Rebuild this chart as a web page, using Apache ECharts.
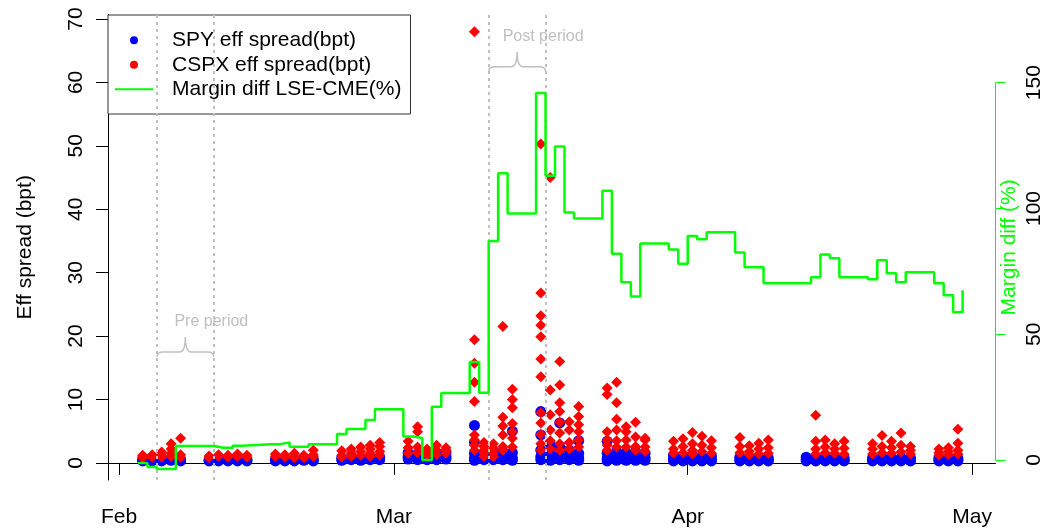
<!DOCTYPE html>
<html>
<head>
<meta charset="utf-8">
<script src="https://cdn.jsdelivr.net/npm/echarts@6/dist/echarts.min.js"></script>
<style>
  html, body { margin: 0; padding: 0; background: #fff; }
  #chart { width: 1045px; height: 531px; }
</style>
</head>
<body>
<div id="chart"></div>
<script>
// trading days, 2020 (Good Friday closed; Apr 13 only SPY)
const tradingDays = [
  '2020-02-03', '2020-02-04', '2020-02-05', '2020-02-06', '2020-02-07',
  '2020-02-10', '2020-02-11', '2020-02-12', '2020-02-13', '2020-02-14',
  '2020-02-17', '2020-02-18', '2020-02-19', '2020-02-20', '2020-02-21',
  '2020-02-24', '2020-02-25', '2020-02-26', '2020-02-27', '2020-02-28',
  '2020-03-02', '2020-03-03', '2020-03-04', '2020-03-05', '2020-03-06',
  '2020-03-09', '2020-03-10', '2020-03-11', '2020-03-12', '2020-03-13',
  '2020-03-16', '2020-03-17', '2020-03-18', '2020-03-19', '2020-03-20',
  '2020-03-23', '2020-03-24', '2020-03-25', '2020-03-26', '2020-03-27',
  '2020-03-30', '2020-03-31', '2020-04-01', '2020-04-02', '2020-04-03',
  '2020-04-06', '2020-04-07', '2020-04-08', '2020-04-09',
  '2020-04-13', '2020-04-14', '2020-04-15', '2020-04-16', '2020-04-17',
  '2020-04-20', '2020-04-21', '2020-04-22', '2020-04-23', '2020-04-24',
  '2020-04-27', '2020-04-28', '2020-04-29'
];

// intraday eff spread observations per day (bpt)
const spySpread = [
  [0.5, 0.3], [0.6, 0.3], [0.5, 0.3], [0.6, 0.4], [0.5, 0.3],
  [0.5, 0.3], [0.6, 0.3], [0.5, 0.3], [0.6, 0.3], [0.5, 0.3],
  [0.5, 0.3], [0.6, 0.3], [0.5, 0.3], [0.6, 0.4], [0.5, 0.3],
  [0.8, 0.4], [0.9, 0.5], [0.8, 0.4], [1.0, 0.5], [0.9, 0.5],
  [1.6, 1.0, 0.6], [1.4, 0.8, 0.5], [1.5, 0.9, 0.5], [1.3, 0.8, 0.5], [1.6, 1.0, 0.6],
  [5.9, 3.2, 1.5, 0.8, 0.4], [1.6, 1.0, 0.5], [1.5, 0.9, 0.5], [1.8, 1.0, 0.5], [5.0, 1.6, 0.8, 0.4],
  [8.1, 4.4, 2.0, 1.0, 0.5], [3.0, 1.5, 0.8, 0.4], [6.3, 2.5, 1.2, 0.5], [2.0, 1.0, 0.5], [3.5, 1.5, 0.8, 0.4],
  [3.4, 1.5, 0.7, 0.3], [1.8, 1.0, 0.4], [1.6, 0.9, 0.4], [1.8, 1.0, 0.4], [1.5, 0.8, 0.4],
  [1.2, 0.7, 0.3], [1.1, 0.6, 0.3], [1.2, 0.7, 0.3], [1.0, 0.6, 0.3], [1.1, 0.6, 0.3],
  [0.9, 0.5, 0.3], [0.8, 0.5, 0.3], [0.9, 0.5, 0.3], [0.8, 0.5, 0.3],
  [0.9, 0.5, 0.3], [0.8, 0.5, 0.3], [0.9, 0.5, 0.3], [0.8, 0.5, 0.3], [0.8, 0.4, 0.3],
  [0.8, 0.5, 0.3], [0.9, 0.5, 0.3], [0.8, 0.5, 0.3], [0.8, 0.5, 0.3], [0.8, 0.4, 0.3],
  [0.8, 0.5, 0.3], [0.7, 0.4, 0.3], [0.8, 0.5, 0.3]
];

const cspxSpread = [
  [1.2, 0.9, 1.1, 0.8], [1.1, 1.3, 0.9], [1.7, 1.2, 0.9], [3.0, 2.2, 1.5, 1.0], [3.9, 1.3, 0.9],
  [1.1, 0.8], [1.0, 1.3], [0.9, 1.2], [1.4, 1.0, 1.3], [1.2, 0.9],
  [1.4, 1.0], [1.3, 0.9], [1.5, 1.0, 0.8], [1.2, 0.8], [2.0, 1.3, 1.0],
  [1.9, 1.2, 0.9], [2.2, 1.6, 1.0], [2.5, 1.8, 1.2], [2.8, 2.2, 1.5, 1.0], [3.2, 2.6, 1.8, 1.2],
  [3.4, 2.4, 1.5], [5.7, 4.9, 2.5, 1.6], [1.7, 1.2, 2.2], [2.8, 2.0, 1.3], [2.4, 1.5, 2.0],
  [68.0, 19.4, 15.7, 12.7, 9.7, 4.4, 3.6, 2.8, 2.0], [3.2, 2.0, 2.6, 1.5, 1.0], [2.3, 3.0, 1.5, 1.0],
  [21.5, 7.2, 5.8, 4.4, 2.6, 2.0], [11.6, 10.0, 8.7, 6.2, 4.9, 3.9, 2.5],
  [50.3, 26.8, 23.2, 21.7, 19.9, 16.4, 13.6, 7.9, 6.3, 4.5, 3.0, 2.0],
  [45.0, 11.5, 7.6, 5.2, 3.5, 2.2],
  [16.0, 12.3, 9.5, 8.1, 6.4, 4.7, 3.0, 2.0],
  [6.5, 5.2, 3.2, 2.2],
  [8.9, 7.3, 6.0, 4.9, 3.6, 2.5],
  [11.8, 10.8, 4.9, 3.6, 2.8, 2.0], [12.7, 9.5, 6.9, 5.2, 3.5, 2.5], [5.7, 4.9, 3.6, 2.5],
  [6.4, 4.1, 2.6, 2.0], [3.9, 3.6, 2.5, 1.8],
  [3.4, 2.2, 1.5], [3.8, 2.6, 1.6], [4.8, 3.0, 2.0, 1.4], [4.2, 2.8, 1.8], [3.5, 2.4, 1.5],
  [4.0, 2.6, 1.6], [2.7, 1.8, 1.3], [3.1, 2.2, 1.4], [3.6, 2.4, 1.5],
  [], [7.5, 3.4, 2.2, 1.4], [3.6, 2.5, 1.6], [2.2, 3.0, 1.5], [3.4, 2.3, 1.4],
  [3.0, 2.2, 1.4], [4.3, 2.6, 1.6], [3.4, 2.4, 1.5], [4.7, 2.8, 1.7], [2.6, 2.0, 1.4],
  [2.2, 1.6, 1.2], [2.4, 1.8, 1.3], [5.3, 3.1, 2.0, 1.4]
];

// margin difference LSE-CME (%), one value per LSE trading day
const marginDays = [
  '2020-02-03', '2020-02-04', '2020-02-05', '2020-02-06', '2020-02-07',
  '2020-02-10', '2020-02-11', '2020-02-12', '2020-02-13', '2020-02-14',
  '2020-02-17', '2020-02-18', '2020-02-19', '2020-02-20', '2020-02-21',
  '2020-02-24', '2020-02-25', '2020-02-26', '2020-02-27', '2020-02-28',
  '2020-03-02', '2020-03-03', '2020-03-04', '2020-03-05', '2020-03-06',
  '2020-03-09', '2020-03-10', '2020-03-11', '2020-03-12', '2020-03-13',
  '2020-03-16', '2020-03-17', '2020-03-18', '2020-03-19', '2020-03-20',
  '2020-03-23', '2020-03-24', '2020-03-25', '2020-03-26', '2020-03-27',
  '2020-03-30', '2020-03-31', '2020-04-01', '2020-04-02', '2020-04-03',
  '2020-04-06', '2020-04-07', '2020-04-08', '2020-04-09',
  '2020-04-14', '2020-04-15', '2020-04-16', '2020-04-17',
  '2020-04-20', '2020-04-21', '2020-04-22', '2020-04-23', '2020-04-24',
  '2020-04-27', '2020-04-28', '2020-04-29', '2020-04-30'
];
const marginDiff = [
  -1.2, -2.8, -3.6, -3.6, 5.6,
  5.6, 4.9, 4.9, 5.7, 6.3,
  6.3, 7.0, 5.3, 5.3, 6.3,
  10.3, 12.3, 12.3, 15.9, 20.2,
  9.3, 8.7, 0.0, 21.2, 26.6,
  38.9, 26.7, 87.0, 114.0, 98.0,
  145.8, 113.0, 124.6, 98.4, 96.0,
  107.0, 82.0, 70.6, 65.0, 86.0,
  83.7, 78.0, 89.0, 87.7, 90.5,
  82.5, 76.6, 76.6, 70.2,
  72.6, 81.7, 80.2, 72.6,
  71.8, 79.4, 74.2, 70.6, 74.6,
  70.2, 65.5, 58.7, 67.5
];

const monthTicks = ['2020-02-01', '2020-03-01', '2020-04-01', '2020-05-01'];
const monthLabels = ['Feb', 'Mar', 'Apr', 'May'];
const spreadTicks = [0, 10, 20, 30, 40, 50, 60, 70];
const marginTicks = [0, 50, 100, 150];

// event windows
const periodNames = ['Pre period', 'Post period'];
const periodStart = ['2020-02-05', '2020-03-11'];
const periodEnd = ['2020-02-11', '2020-03-17'];
const periodLevel = [16.7, 61.7];

const DAY = 86400000;
const ts = s => Date.UTC(+s.slice(0, 4), +s.slice(5, 7) - 1, +s.slice(8, 10));

const spyData = [];
const cspxData = [];
tradingDays.forEach((d, i) => {
  const t = ts(d) + DAY / 2;
  spySpread[i].forEach(v => spyData.push([t, v]));
  cspxSpread[i].forEach(v => cspxData.push([t, v]));
});
const marginData = marginDays.map((d, i) => [ts(d), marginDiff[i]]);
const monthTs = monthTicks.map(ts);
const periodLines = periodStart.concat(periodEnd).map(d => ({ xAxis: ts(d) }));
const braceData = periodNames.map((n, i) => [ts(periodStart[i]), ts(periodEnd[i]), periodLevel[i], n]);

const FONT = 'Liberation Sans';
const FS = 21;
const xMin = ts('2020-02-01') - 1.16 * DAY;
const xMax = ts('2020-02-01') + 92.47 * DAY;

const chart = echarts.init(document.getElementById('chart'));

const option = {
  animation: false,
  textStyle: { fontFamily: FONT },
  grid: [
    { left: 108, right: 49.5, top: 14.6, bottom: 51 },
    { left: 108, right: 49.5, top: 82.7, bottom: 71 }
  ],
  legend: {
    left: 108, top: 15,
    orient: 'vertical',
    backgroundColor: '#fff',
    borderColor: '#333', borderWidth: 1,
    padding: [13, 9, 12.5, 6],
    itemGap: 0,
    itemWidth: 38, itemHeight: 8,
    textStyle: { fontSize: FS, color: '#000', fontFamily: FONT, lineHeight: 24.5, padding: [0, 0, 0, 14] },
    data: [
      { name: 'SPY eff spread(bpt)', icon: 'circle' },
      { name: 'CSPX eff spread(bpt)', icon: 'circle', itemStyle: { color: '#ff0000' } },
      { name: 'Margin diff LSE-CME(%)', itemStyle: { opacity: 0 } }
    ]
  },
  xAxis: [
    {
      type: 'value', gridIndex: 0, min: xMin, max: xMax,
      axisLine: { show: true, lineStyle: { color: '#000', width: 1 } },
      axisTick: { show: true, length: 12, customValues: monthTs, lineStyle: { color: '#000' } },
      axisLabel: {
        customValues: monthTs, margin: 27, fontSize: FS, color: '#000', fontFamily: FONT,
        formatter: v => monthLabels[monthTs.indexOf(v)]
      },
      splitLine: { show: false }
    },
    {
      type: 'value', gridIndex: 1, min: xMin, max: xMax, show: false
    }
  ],
  yAxis: [
    {
      type: 'value', gridIndex: 0, position: 'left', min: -2.7, max: 70.7,
      axisLine: { show: true, lineStyle: { color: '#000', width: 1 } },
      axisTick: { show: true, length: 12, customValues: spreadTicks, lineStyle: { color: '#000' } },
      axisLabel: { customValues: spreadTicks, rotate: 90, margin: 21, fontSize: FS, color: '#000', fontFamily: FONT },
      splitLine: { show: false },
      name: 'Eff spread (bpt)', nameLocation: 'middle', nameGap: 72, nameRotate: 90,
      nameTextStyle: { fontSize: FS, color: '#000', fontFamily: FONT }
    },
    {
      type: 'value', gridIndex: 0, position: 'right', min: -7.95, max: 177,
      axisLine: { show: false }, axisTick: { show: false }, axisLabel: { show: false },
      splitLine: { show: false },
      name: 'Margin diff (%)', nameLocation: 'middle', nameGap: 3, nameRotate: 90,
      nameTextStyle: { fontSize: FS, color: '#00ff00', fontFamily: FONT }
    },
    {
      type: 'value', gridIndex: 1, position: 'right', min: 0, max: 150,
      axisLine: { show: true, lineStyle: { color: '#00ff00', width: 1 } },
      axisTick: { show: true, length: 10, customValues: marginTicks, lineStyle: { color: '#00ff00' } },
      axisLabel: { customValues: marginTicks, rotate: 90, margin: 28, fontSize: FS, color: '#000', fontFamily: FONT },
      splitLine: { show: false }
    }
  ],
  series: [
    {
      name: 'SPY eff spread(bpt)', type: 'scatter', xAxisIndex: 0, yAxisIndex: 0,
      symbol: 'circle', symbolSize: 11,
      itemStyle: { color: '#0000ff', opacity: 1 },
      data: spyData, z: 3
    },
    {
      name: 'CSPX eff spread(bpt)', type: 'scatter', xAxisIndex: 0, yAxisIndex: 0,
      symbol: 'diamond', symbolSize: 11,
      itemStyle: { color: '#ff0000', opacity: 1 },
      data: cspxData, z: 4
    },
    {
      name: 'Margin diff LSE-CME(%)', type: 'line', xAxisIndex: 0, yAxisIndex: 1,
      step: 'end', showSymbol: false, symbol: 'none',
      lineStyle: { color: '#00ff00', width: 2.5 },
      itemStyle: { color: '#00ff00' },
      data: marginData, z: 5,
      markLine: {
        silent: true, symbol: 'none', label: { show: false },
        lineStyle: { color: '#c0c0c0', width: 2, type: [3, 4] },
        data: periodLines
      }
    },
    {
      name: 'periods', type: 'custom', xAxisIndex: 0, yAxisIndex: 0,
      silent: true, z: 6,
      encode: { x: [0, 1], y: 2 },
      data: braceData,
      renderItem: (params, api) => {
        const a = api.coord([api.value(0), api.value(2)]);
        const b = api.coord([api.value(1), api.value(2)]);
        const y = a[1], h = y - 5, t = y - 20;
        const m = (a[0] + b[0]) / 2;
        const path = `M${a[0]},${y} Q${a[0]},${h} ${a[0] + 6},${h} L${m - 6},${h} Q${m},${h} ${m},${t} ` +
          `Q${m},${h} ${m + 6},${h} L${b[0] - 6},${h} Q${b[0]},${h} ${b[0]},${y}`;
        return {
          type: 'group',
          children: [
            { type: 'path', shape: { pathData: path }, style: { fill: null, stroke: '#c0c0c0', lineWidth: 1.5 } },
            {
              type: 'text', x: m + 26, y: t - 7,
              style: { text: api.value(3), fill: '#c0c0c0', font: '16px ' + FONT, textAlign: 'center', textVerticalAlign: 'bottom' }
            }
          ]
        };
      }
    }
  ]
};

chart.setOption(option);
</script>
</body>
</html>
